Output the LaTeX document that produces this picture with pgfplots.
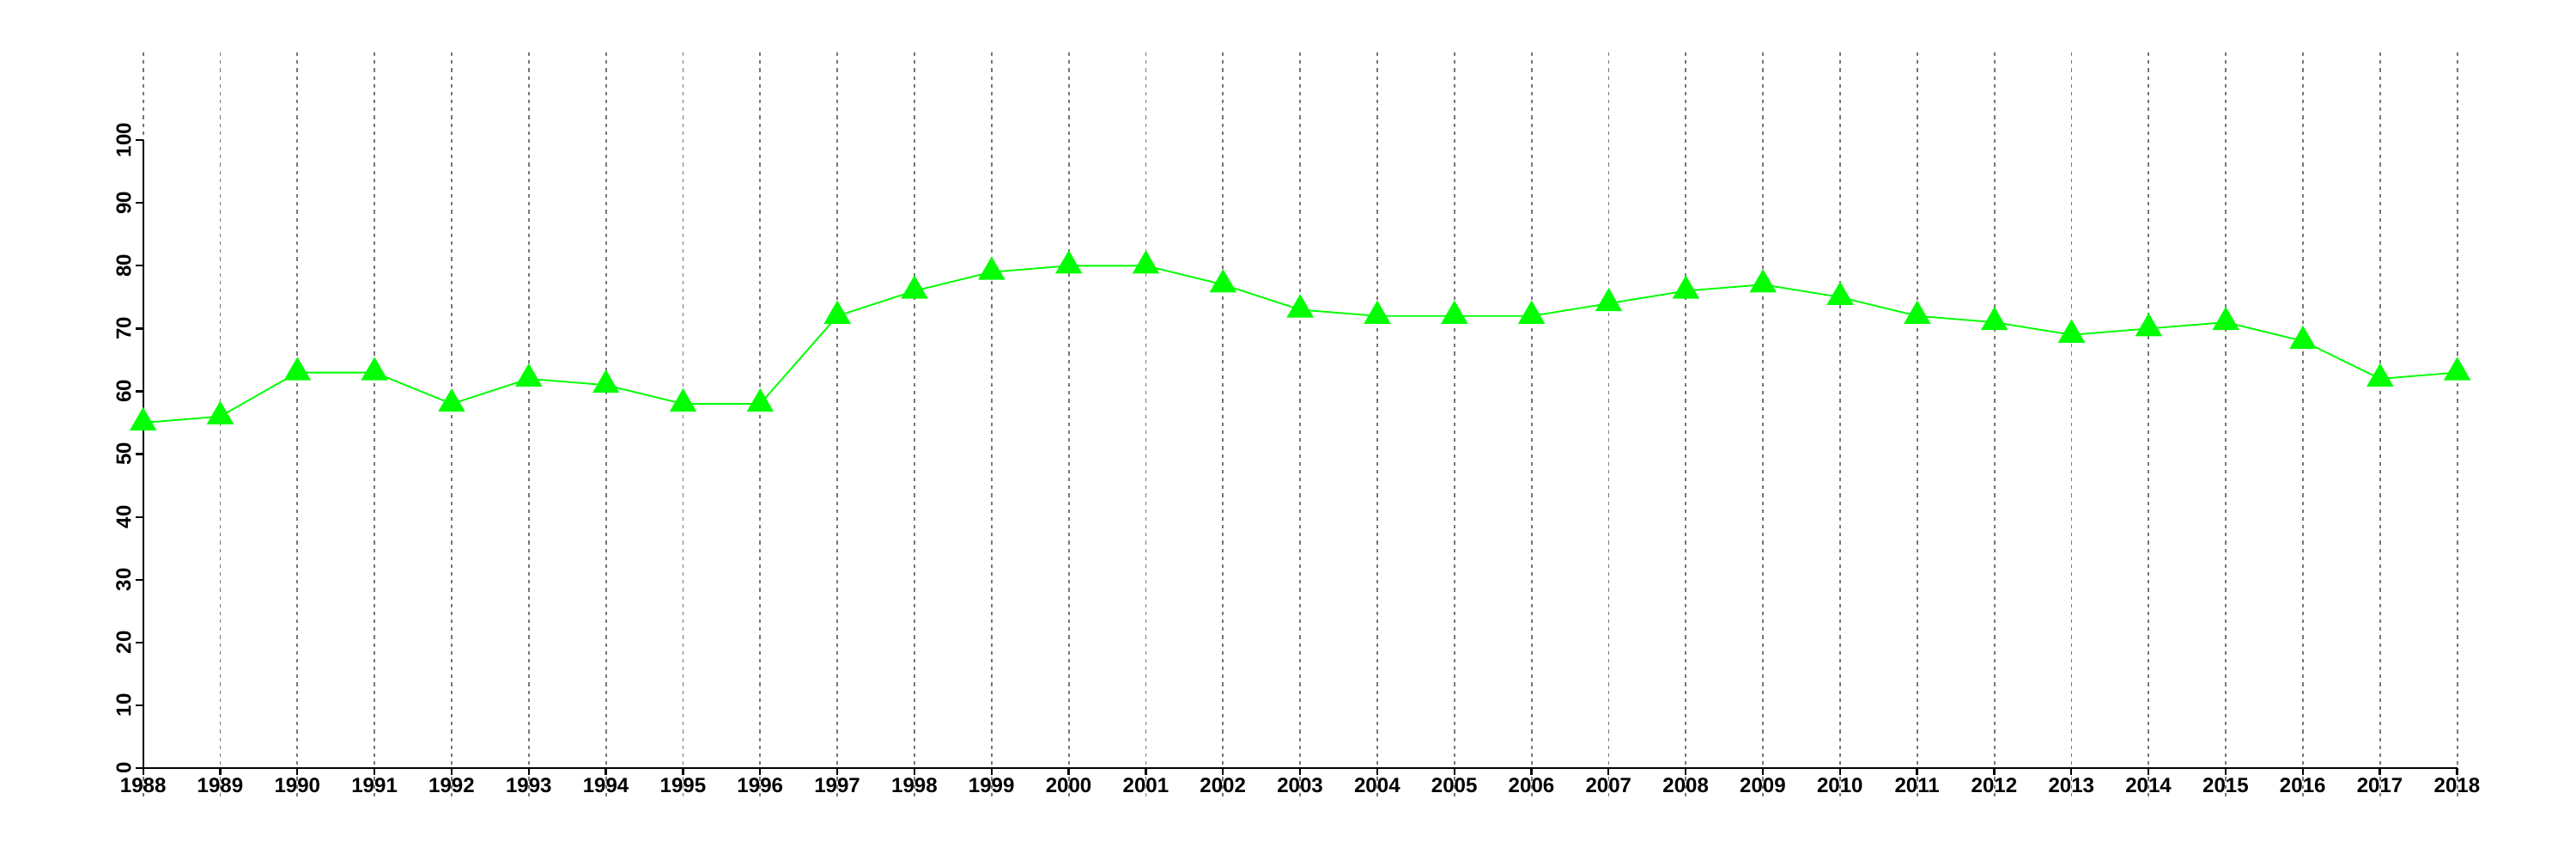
\documentclass[border=0pt]{standalone}
\usepackage{pgfplots}
\pgfplotsset{compat=1.18}
\usepackage{fontspec}
\setmainfont{Liberation Sans}
\definecolor{gridgray}{RGB}{119,119,119}
\definecolor{linegreen}{RGB}{0,255,0}

\pgfplotstableread{
year value
1988 55
1989 56
1990 63
1991 63
1992 58
1993 62
1994 61
1995 58
1996 58
1997 72
1998 76
1999 79
2000 80
2001 80
2002 77
2003 73
2004 72
2005 72
2006 72
2007 74
2008 76
2009 77
2010 75
2011 72
2012 71
2013 69
2014 70
2015 71
2016 68
2017 62
2018 63
}\datatable

\begin{document}
\begin{tikzpicture}
\useasboundingbox (0,0) rectangle (720bp,240bp);
\begin{axis}[
    at={(40.0bp,25.44bp)}, anchor=origin,
    scale only axis,
    width=646.8bp, height=175.4bp,
    xmin=1988, xmax=2018,
    ymin=0, ymax=100,
    clip=false,
    axis on top,
    axis x line=bottom, axis y line=left,
    axis line style={-, line width=0.55bp, black},
    xtick={1988,...,2018},
    ytick={0,10,...,100},
    x tick label style={/pgf/number format/1000 sep={}, anchor=north, inner sep=0.6bp},
    yticklabel style={rotate=90, anchor=south, inner sep=1.2bp},
    tick align=outside,
    major tick length=2bp,
    tick style={line width=0.55bp, black},
    ticklabel style={font=\fontsize{5.8}{6.9}\selectfont\bfseries},
    /pgf/number format/assume math mode=true,
]
\pgfplotsinvokeforeach{1988,...,2018}{
    \draw[gridgray, line width=0.45bp, dash pattern=on 1bp off 1.2bp]
        (axis cs:#1,-4.5) -- (axis cs:#1,114.2);
}
\addplot[
    color=linegreen, line width=0.45bp,
    mark=triangle*, mark size=3.9bp,
    mark options={draw=none, fill=linegreen},
] table[x=year, y=value] {\datatable};
\end{axis}
\end{tikzpicture}
\end{document}
